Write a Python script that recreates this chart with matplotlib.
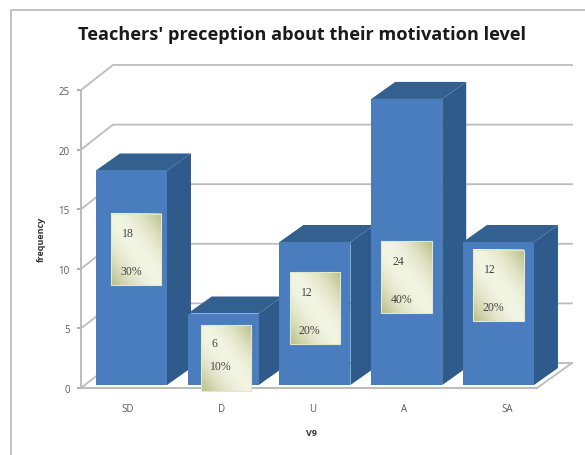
import matplotlib
matplotlib.use("Agg")
from matplotlib.lines import Line2D
from matplotlib.patches import Polygon, Rectangle
import matplotlib.pyplot as plt
import numpy as np

# data
categories = ['SD', 'D', 'U', 'A', 'SA']
frequency = [18, 6, 12, 24, 12]
percent = ['30%', '10%', '20%', '40%', '20%']
y_ticks = [0, 5, 10, 15, 20, 25]

# label box placement (value units / category units)
box_mid = [11.6, 2.5, 6.7, 9.3, 8.6]
box_height = [6, 5.5, 6, 6, 6]
box_shift = [0.05, 0.03, 0, 0, 0]
percent_frac = [0.2, 0.38, 0.2, 0.2, 0.2]
tick_pos = [-0.04, 0.98, 1.98, 2.97, 4.09]

W, H = 585, 456
PX_X = 91.75   # pixels per category
PX_Y = 11.92   # pixels per frequency unit

FRONT = '#4a7dbd'
SIDE = '#2e5a8c'
TOP = '#32608f'
GRID = '#bcbcbc'
TEXT = '#5a5a5a'

fig = plt.figure(figsize=(W / 100, H / 100), dpi=100)
ax = fig.add_axes([81 / W, (H - 389) / H, 456 / W, 298 / H])

# outer chart frame, open at the right and bottom
fig.add_artist(Line2D([11 / W, 11 / W, 1], [0, 1 - 11 / H, 1 - 11 / H], color='#bdbdbd', lw=1.3))

# back wall and floor grid
wall_dx, wall_dy = 32 / PX_X, 25 / PX_Y
x_left, x_right = -0.55, 4.42
back_right = x_right + 35 / PX_X
for t in y_ticks:
    ax.plot([x_left, x_left + wall_dx, back_right], [t, t + wall_dy, t + wall_dy],
            color=GRID, lw=1.3, clip_on=False, zorder=1)
ax.plot([x_right, back_right], [0, wall_dy], color=GRID, lw=1.3, clip_on=False, zorder=1)

# gradient used on the label boxes
u, v = np.meshgrid(np.linspace(0, 1, 60), np.linspace(0, 1, 80))
d = np.abs(u + v - 1) ** 1.8
pale = np.array([0.95, 0.96, 0.89])
olive = np.array([0.72, 0.74, 0.52])
grad = pale + (olive - pale) * d[..., None]

# bars
base = 0.25
bar_w = 71 / PX_X
bar_dx, bar_dy = 24 / PX_X, 17 / PX_Y
xs = np.arange(len(categories))
for i, val in enumerate(frequency):
    z = 10 + i * 3
    ax.bar(xs[i], val, bar_w, bottom=base, color=FRONT, zorder=z + 1)
    l, r = xs[i] - bar_w / 2, xs[i] + bar_w / 2
    top = base + val
    ax.add_patch(Polygon([(r, base), (r + bar_dx, base + bar_dy), (r + bar_dx, top + bar_dy), (r, top)],
                         closed=True, color=SIDE, zorder=z, clip_on=False, lw=0))
    ax.add_patch(Polygon([(l, top), (l + bar_dx, top + bar_dy), (r + bar_dx, top + bar_dy), (r, top)],
                         closed=True, color=TOP, zorder=z, clip_on=False, lw=0))

    # label box with the count and percent
    bx = xs[i] + box_shift[i]
    bw = 0.55
    by0, by1 = box_mid[i] - box_height[i] / 2, box_mid[i] + box_height[i] / 2
    ax.imshow(grad, extent=[bx - bw / 2, bx + bw / 2, by0, by1], origin='lower', aspect='auto',
              zorder=z + 2, clip_on=False, interpolation='bilinear')
    ax.add_patch(Rectangle((bx - bw / 2, by0), bw, by1 - by0, fill=False, ec='#e4e8c4', lw=0.8,
                           zorder=z + 2, clip_on=False))
    ax.text(bx - bw / 2 + 0.12, by1 - 0.27 * (by1 - by0), str(val), family='Liberation Serif', fontsize=8.5,
            color='#444444', ha='left', va='center', zorder=z + 2)
    ax.text(bx - bw / 2 + 0.1, by0 + percent_frac[i] * (by1 - by0), percent[i], family='Liberation Serif',
            fontsize=8.5, color='#444444', ha='left', va='center', zorder=z + 2)

ax.set_xlim(x_left, x_right)
ax.set_ylim(0, 25)
ax.patch.set_alpha(0)
for s in ['top', 'right']:
    ax.spines[s].set_visible(False)
for s in ['left', 'bottom']:
    ax.spines[s].set_color(GRID)
    ax.spines[s].set_linewidth(1.4)
    ax.spines[s].set_zorder(5)

ax.set_yticks(y_ticks)
ax.set_xticks(tick_pos, categories)
ax.tick_params(axis='y', length=3, width=1.1, color='#999999', labelsize=7, labelcolor=TEXT, pad=5)
ax.tick_params(axis='x', length=0, labelsize=7, labelcolor=TEXT, pad=11)
for lab in ax.get_xticklabels() + ax.get_yticklabels():
    lab.set_family('Open Sans')

fig.text(302 / W, 1 - 35 / H, "Teachers' preception about their motivation level", family='Open Sans',
         fontsize=13.1, fontweight='bold', color='#1a1a1a', ha='center', va='center')
fig.text(311 / W, 1 - 434 / H, 'V9', family='Open Sans', fontsize=6.5, fontweight='bold', color='#333333',
         ha='center', va='center')
fig.text(41 / W, 1 - 239 / H, 'frequency', family='Open Sans', fontsize=6.5, fontweight='bold', color='#333333',
         rotation=90, ha='center', va='center')

fig.savefig('out.png', dpi=100)
